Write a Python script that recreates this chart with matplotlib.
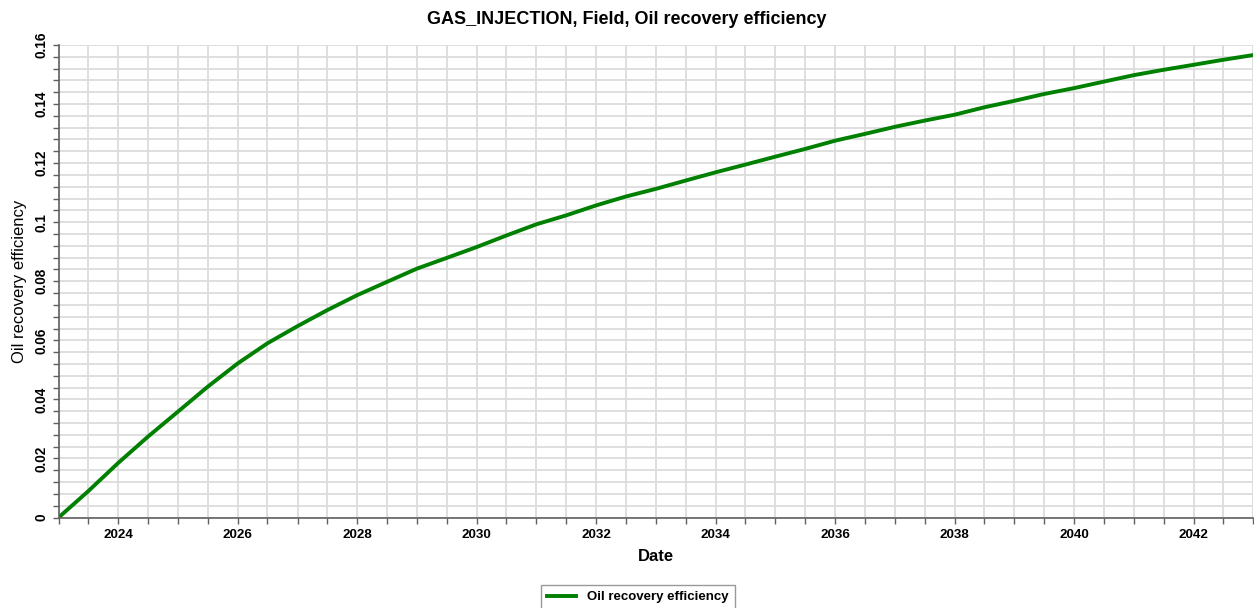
import numpy as np
import pandas as pd
import matplotlib
matplotlib.use("Agg")
import matplotlib.pyplot as plt
import matplotlib.dates as mdates
from matplotlib.ticker import MultipleLocator, FuncFormatter

plt.rcParams['font.family'] = ['Liberation Sans', 'DejaVu Sans']

# values (half-year steps)
dates = ["2023-01-01", "2023-07-01", "2024-01-01", "2024-07-01", "2025-01-01",
         "2025-07-01", "2026-01-01", "2026-07-01", "2027-01-01", "2027-07-01",
         "2028-01-01", "2028-07-01", "2029-01-01", "2029-07-01", "2030-01-01",
         "2030-07-01", "2031-01-01", "2031-07-01", "2032-01-01", "2032-07-01",
         "2033-01-01", "2033-07-01", "2034-01-01", "2034-07-01", "2035-01-01",
         "2035-07-01", "2036-01-01", "2036-07-01", "2037-01-01", "2037-07-01",
         "2038-01-01", "2038-07-01", "2039-01-01", "2039-07-01", "2040-01-01",
         "2040-07-01", "2041-01-01", "2041-07-01", "2042-01-01", "2042-07-01",
         "2043-01-01"]
recovery = [0.0, 0.0089, 0.0185, 0.0274, 0.0359, 0.0443, 0.0522, 0.0590,
            0.0648, 0.0702, 0.0753, 0.0798, 0.0843, 0.0879, 0.0916, 0.0955,
            0.0993, 0.1023, 0.1057, 0.1087, 0.1113, 0.1141, 0.1169, 0.1195,
            0.1222, 0.1248, 0.1276, 0.1299, 0.1323, 0.1344, 0.1364, 0.1389,
            0.1411, 0.1434, 0.1454, 0.1476, 0.1498, 0.1516, 0.1533, 0.1550,
            0.1566]

t = pd.to_datetime(dates)

fig = plt.figure(figsize=(12.54, 6.08), dpi=100)
ax = fig.add_axes([0.0467, 0.1488, 0.9528, 0.7772])

ax.plot(t, recovery, color="#008000", lw=2.8, label="Oil recovery efficiency")

ax.set_xlim(t[0], t[-1])
ax.set_ylim(0, 0.16)

ax.xaxis.set_major_locator(mdates.YearLocator(2))
ax.xaxis.set_major_formatter(mdates.DateFormatter("%Y"))
ax.xaxis.set_minor_locator(mdates.MonthLocator(bymonth=[1, 7]))
ax.yaxis.set_major_locator(MultipleLocator(0.02))
ax.yaxis.set_minor_locator(MultipleLocator(0.004))
ax.yaxis.set_major_formatter(FuncFormatter(lambda v, p: "%g" % round(v, 3)))

ax.grid(True, which="both", color="#dcdcdc", lw=1.3)
ax.set_axisbelow(True)
for s in ["top", "right"]:
    ax.spines[s].set_visible(False)
for s in ["left", "bottom"]:
    ax.spines[s].set_color("#606060")
    ax.spines[s].set_linewidth(1.2)

ax.tick_params(which="both", direction="out", color="#606060", length=4, width=1)
ax.tick_params(axis="x", labelsize=9.6, pad=4)
ax.tick_params(axis="y", labelsize=9.8, labelrotation=90, pad=3)
for lab in ax.get_xticklabels() + ax.get_yticklabels():
    lab.set_fontweight("bold")
for lab in ax.get_yticklabels():
    lab.set_va("center")

ax.set_xlabel("Date", fontsize=12, fontweight="bold", labelpad=6)
ax.set_ylabel("Oil recovery efficiency", fontsize=12, labelpad=6)
fig.suptitle("GAS_INJECTION, Field, Oil recovery efficiency", fontsize=13,
             fontweight="bold", y=0.982)

leg = ax.legend(loc="upper center", bbox_to_anchor=(0.5088, 0.0378),
                bbox_transform=fig.transFigure, fancybox=False, frameon=True,
                prop={"weight": "bold", "size": 9.5}, handlelength=2.2,
                borderpad=0.45, borderaxespad=0)
leg.get_frame().set_edgecolor("#808080")
leg.get_frame().set_linewidth(1)

fig.savefig("out.png", dpi=100)
